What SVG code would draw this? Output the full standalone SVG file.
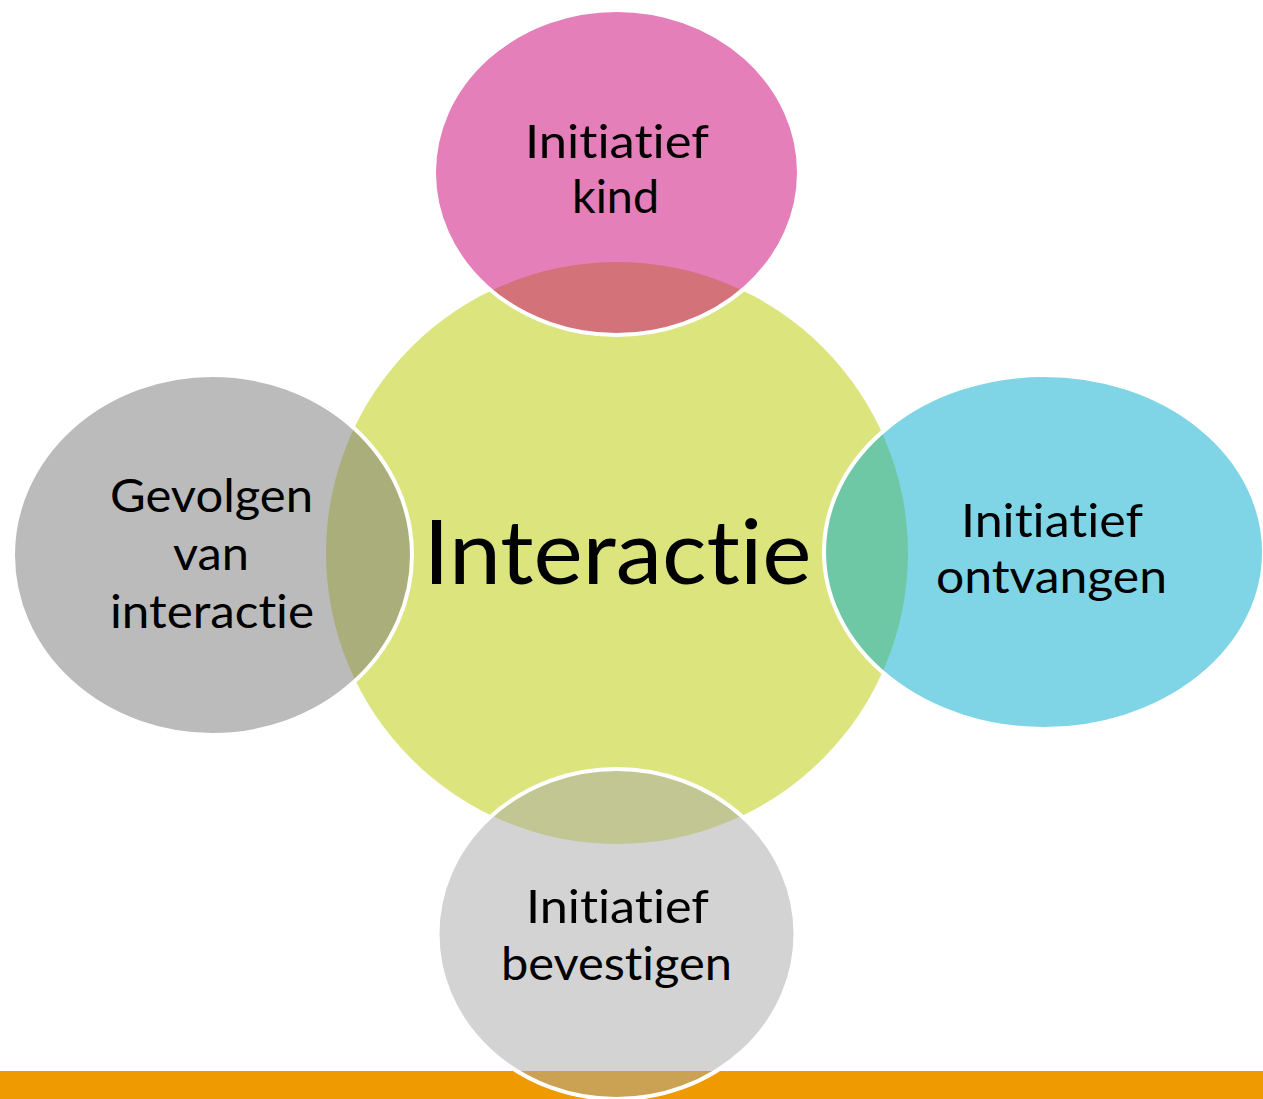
<svg xmlns="http://www.w3.org/2000/svg" width="1263" height="1099" viewBox="0 0 1263 1099">
  <style>
    .outer { fill-opacity: 0.5; stroke: #FFFFFF; stroke-width: 4; }
    .lbl, .big { font-family: Lato, "Open Sans", "Liberation Sans", sans-serif; fill: #000000; text-anchor: middle; font-variant-ligatures: none; font-feature-settings: "liga" 0, "clig" 0, "dlig" 0; }
    .lbl { font-size: 46px; }
    .big { font-size: 90px; }
  </style>
  <rect x="0" y="0" width="1263" height="1099" fill="#FFFFFF"/>
  <rect id="bottom-bar" x="0" y="1071" width="1263" height="28" fill="#EE9A00"/>
  <g id="center">
    <circle cx="617" cy="553" r="291" fill="#DCE47E"/>
  </g>
  <g id="node-top">
    <ellipse class="outer" cx="616.5" cy="172.5" rx="182.5" ry="162.5" fill="#C90073"/>
  </g>
  <g id="node-right">
    <ellipse class="outer" cx="1044" cy="552" rx="220" ry="177" fill="#00ABCD"/>
  </g>
  <g id="node-left">
    <ellipse class="outer" cx="212.5" cy="555" rx="199.5" ry="180" fill="#777777"/>
  </g>
  <g id="node-bottom">
    <ellipse class="outer" cx="616.5" cy="934" rx="179" ry="165" fill="#A7A7A7"/>
  </g>
  <g id="connectors"/>
  <g id="labels">
    <text class="big" x="617.5" y="584" textLength="388" lengthAdjust="spacingAndGlyphs">Interactie</text>
    <text class="lbl" x="617" y="158" textLength="184" lengthAdjust="spacingAndGlyphs">Initiatief</text>
    <text class="lbl" x="615.5" y="213" textLength="87" lengthAdjust="spacingAndGlyphs">kind</text>
    <text class="lbl" x="1052" y="537" textLength="182" lengthAdjust="spacingAndGlyphs">Initiatief</text>
    <text class="lbl" x="1051.5" y="593" textLength="231" lengthAdjust="spacingAndGlyphs">ontvangen</text>
    <text class="lbl" x="211.5" y="512" textLength="203" lengthAdjust="spacingAndGlyphs">Gevolgen</text>
    <text class="lbl" x="211" y="570" textLength="76" lengthAdjust="spacingAndGlyphs">van</text>
    <text class="lbl" x="212" y="628" textLength="204" lengthAdjust="spacingAndGlyphs">interactie</text>
    <text class="lbl" x="617.5" y="923" textLength="183" lengthAdjust="spacingAndGlyphs">Initiatief</text>
    <text class="lbl" x="616.5" y="980" textLength="231" lengthAdjust="spacingAndGlyphs">bevestigen</text>
  </g>
</svg>
